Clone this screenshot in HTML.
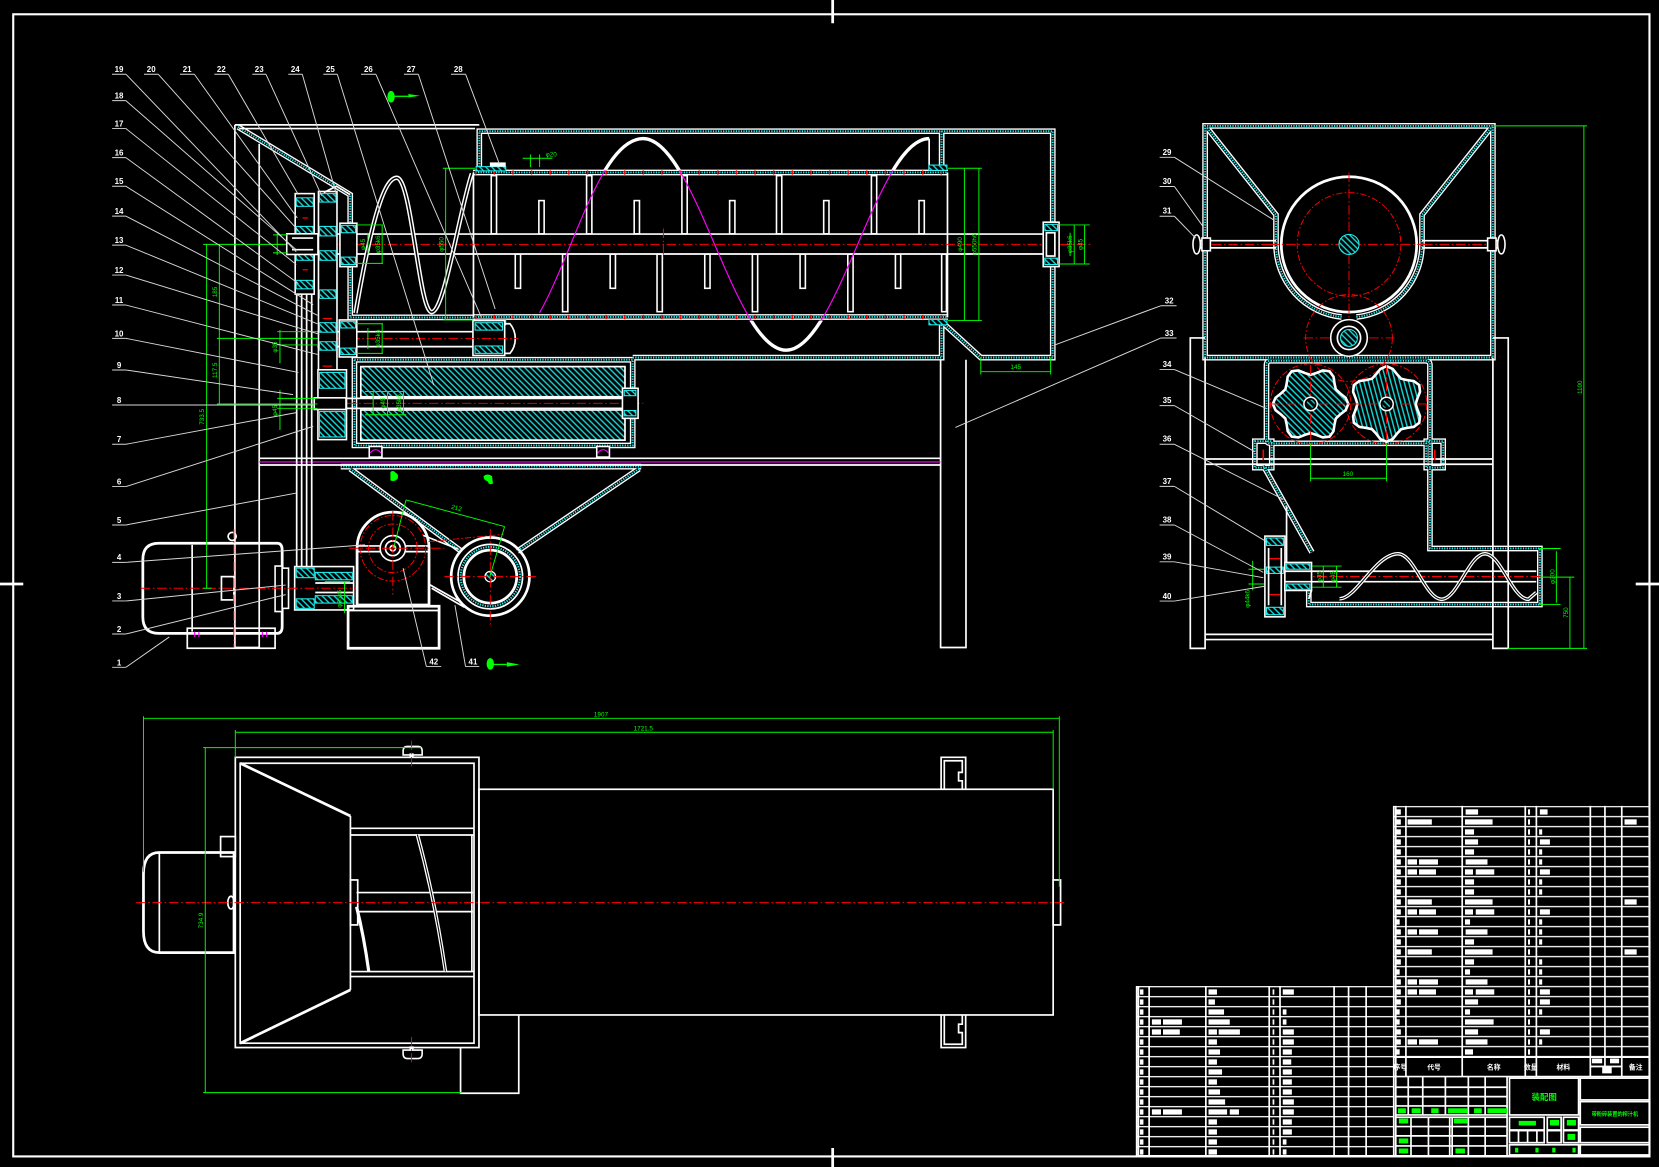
<!DOCTYPE html>
<html><head><meta charset="utf-8">
<style>
html,body{margin:0;padding:0;background:#000;overflow:hidden}
svg{display:block}
.w{stroke:#fff;fill:none;stroke-width:1.6}
.wf{stroke:#fff;fill:#000;stroke-width:1.5}
.w2{stroke:#fff;fill:none;stroke-width:2.6}
.t{stroke:#d8d8d8;fill:none;stroke-width:.9}
.g{stroke:#0f0;fill:none;stroke-width:.9}
.r{stroke:#f00;fill:none;stroke-width:.9;stroke-dasharray:9 2.5 1.5 2.5}
.m{stroke:#f0f;fill:none;stroke-width:1.1}
.wa{stroke:#fff;fill:none;stroke-width:5.4}
.wb{stroke:#000;fill:none;stroke-width:2.8}
.wc{stroke:#2ee;fill:none;stroke-width:1.8;stroke-dasharray:1.2 1.2}
.lb{fill:#fff;font:bold 7.5px "Liberation Sans",sans-serif;text-anchor:middle}
.gt{fill:#0f0;font:6px "Liberation Sans",sans-serif;text-anchor:middle}
.hf{fill:url(#hat);stroke:#2ee;stroke-width:1}
.tb rect{fill:#fff}
.gb rect{fill:#0f0}
</style></head><body>
<svg width="1659" height="1167" viewBox="0 0 1568 1103" preserveAspectRatio="none" xmlns="http://www.w3.org/2000/svg" xmlns:xlink="http://www.w3.org/1999/xlink">
<defs>
<pattern id="hat" width="4" height="4" patternUnits="userSpaceOnUse" patternTransform="rotate(-45)"><rect width="4" height="4" fill="#000"/><line x1="1" y1="0" x2="1" y2="4" stroke="#1dd" stroke-width="1.3"/></pattern>
<pattern id="rows1" x="0" y="761.7" width="20" height="9.451" patternUnits="userSpaceOnUse"><rect x="0" y="0" width="20" height="1.3" fill="#eee"/></pattern>
<pattern id="rows2" x="0" y="931.9" width="20" height="9.451" patternUnits="userSpaceOnUse"><rect x="0" y="0" width="20" height="1.3" fill="#eee"/></pattern>
<clipPath id="outDrum"><rect x="0" y="0" width="1568" height="161"/><rect x="0" y="303" width="1568" height="200"/></clipPath>
<g id="WALLS">
<path d="M225,120 L331,184 V300 H447"/>
<path d="M453,160 V124 H995 V338 H927 L892,306"/>
<path d="M890,124 V160"/>
<path d="M598,338 H890 V306"/>
<path d="M335,340 H598 V421 H335 Z"/>
<path d="M447,163 H896"/>
<path d="M447,299.6 H896"/>
<path d="M322,441 H606"/>
<path d="M331,443 L436,521"/>
<path d="M604,443 L489,521"/>
<path d="M1139,338 V119 H1411 V338 Z"/>
<path d="M1141,121 L1206,203 V231 A69,69 0 0 0 1268,299.6"/>
<path d="M1282,299.6 A69,69 0 0 0 1344,231 V203 L1409,121"/>
<path d="M1201,341 H1347 Q1351.5,341 1351.5,345 V415 Q1351.5,419 1347,419 H1201 Q1197,419 1197,415 V345 Q1197,341 1201,341 Z"/>
<path d="M1194,440 L1240,522"/>
<path d="M1351.5,419 V518.4 H1455.4 V571.4 H1237 V532"/>
<path d="M1186,417 H1202 V442 H1186 Z"/>
<path d="M1348,417 H1364 V442 H1348 Z"/>
</g>
<path id="flower" d="M35,0 L32.5,5.73 L27.25,9.92 L23.38,13.5 L22.22,18.64 L21.21,25.28 L17.5,30.31 L11.29,31.01 L5.04,28.56 L0,27 L-5.04,28.56 L-11.29,31.01 L-17.5,30.31 L-21.21,25.28 L-22.22,18.64 L-23.38,13.5 L-27.25,9.92 L-32.5,5.73 L-35,0 L-32.5,-5.73 L-27.25,-9.92 L-23.38,-13.5 L-22.22,-18.64 L-21.21,-25.28 L-17.5,-30.31 L-11.29,-31.01 L-5.04,-28.56 L0,-27 L5.04,-28.56 L11.29,-31.01 L17.5,-30.31 L21.21,-25.28 L22.22,-18.64 L23.38,-13.5 L27.25,-9.92 L32.5,-5.73 Z"/>
<g id="tA" class="tb"><rect x="1319.9" width="4.1" height="5"/><rect x="1385.2" width="11.8" height="5"/><rect x="1444.2" width="1.9" height="5"/><rect x="1455.4" width="7.3" height="5"/></g>
<g id="tB" class="tb"><rect x="1319.9" width="4.1" height="5"/><rect x="1330.4" width="22.9" height="5"/><rect x="1384.6" width="26.1" height="5"/><rect x="1444.2" width="1.9" height="5"/><rect x="1535.4" width="11.5" height="5"/></g>
<g id="tC" class="tb"><rect x="1319.9" width="4.1" height="5"/><rect x="1384.6" width="8.6" height="5"/><rect x="1444.2" width="1.9" height="5"/><rect x="1454.7" width="2.9" height="5"/></g>
<g id="tD" class="tb"><rect x="1319.9" width="4.1" height="5"/><rect x="1384.6" width="12.4" height="5"/><rect x="1444.2" width="1.9" height="5"/><rect x="1455.4" width="9.5" height="5"/></g>
<g id="tE" class="tb"><rect x="1319.9" width="4.1" height="5"/><rect x="1330.4" width="8.9" height="5"/><rect x="1341.2" width="17.9" height="5"/><rect x="1385.2" width="20.7" height="5"/><rect x="1444.2" width="1.9" height="5"/><rect x="1454.7" width="2.9" height="5"/></g>
<g id="tF" class="tb"><rect x="1319.9" width="4.1" height="5"/><rect x="1330.4" width="8.9" height="5"/><rect x="1341.2" width="16" height="5"/><rect x="1384.6" width="7.6" height="5"/><rect x="1394.8" width="17.5" height="5"/><rect x="1444.2" width="1.9" height="5"/><rect x="1455.4" width="9.5" height="5"/></g>
<g id="tG" class="tb"><rect x="1319.9" width="3" height="5"/><rect x="1384.6" width="4.8" height="5"/><rect x="1444.2" width="1.9" height="5"/><rect x="1454.7" width="2.9" height="5"/></g>
<g id="tH" class="tb"><rect x="1319.9" width="3" height="5"/><rect x="1384.6" width="7.6" height="5"/><rect x="1444.2" width="1.9" height="5"/></g>
<g id="tI" class="tb"><rect x="1319.9" width="3" height="5"/><rect x="1384.6" width="27.1" height="5"/><rect x="1444.2" width="1.9" height="5"/></g>
</defs>

<rect x="0" y="0" width="1568" height="1103" fill="#000"/>

<!-- border & centre marks -->
<rect x="12.5" y="13.5" width="1546.5" height="1079.5" fill="none" stroke="#fff" stroke-width="2"/>
<path class="w2" d="M787,0 V22 M787,1085 V1103 M0,552 H22 M1546,552 H1568"/>

<!-- walls (cyan double) -->
<use href="#WALLS" xlink:href="#WALLS" class="wa"/>
<use href="#WALLS" xlink:href="#WALLS" class="wb"/>
<use href="#WALLS" xlink:href="#WALLS" class="wc"/>
<!-- drum perforation ticks -->
<path d="M449,163 H895 M449,299.6 H895" stroke="#f00" stroke-width="4" stroke-dasharray="1.3 16.3" fill="none"/>

<!-- ============ FRONT VIEW ============ -->
<!-- frame -->
<path class="w" d="M222,118 V612 H245 V136 M222,118 H453 M226,121.5 H449"/>
<path class="w" d="M889,340 V612 H913 V340"/>
<!-- beam -->
<path class="w" d="M245,433.2 H889 M245,439.5 H889"/>
<path class="m" d="M245,436.6 H889"/>
<!-- drum end verticals -->
<path class="w" d="M447.5,163 V300 M895.5,163 V300"/>
<!-- shaft -->
<path class="w" d="M272,221.2 H986 M272,240.1 H986"/>
<!-- fingers -->
<g class="wf">
<rect x="464.3" y="166" width="5" height="55"/><rect x="554.4" y="166" width="5" height="55"/><rect x="644.5" y="166" width="5" height="55"/><rect x="733.9" y="166" width="5" height="55"/><rect x="823.6" y="166" width="5" height="55"/>
<rect x="509.3" y="189.6" width="5" height="31.4"/><rect x="599.4" y="189.6" width="5" height="31.4"/><rect x="689.6" y="189.6" width="5" height="31.4"/><rect x="778.5" y="189.6" width="5" height="31.4"/><rect x="868.6" y="189.6" width="5" height="31.4"/>
<rect x="531.7" y="240.3" width="5" height="54.3"/><rect x="621" y="240.3" width="5" height="54.3"/><rect x="711.1" y="240.3" width="5" height="54.3"/><rect x="801.3" y="240.3" width="5" height="54.3"/><rect x="890" y="240.3" width="4.5" height="54.3"/>
<rect x="487" y="240.3" width="5" height="32.2"/><rect x="576.7" y="240.3" width="5" height="32.2"/><rect x="666.1" y="240.3" width="5" height="32.2"/><rect x="756.2" y="240.3" width="5" height="32.2"/><rect x="846.3" y="240.3" width="5" height="32.2"/>
</g>
<path class="r" d="M258,231 H1032 M627,216 V246"/>
<!-- flight sine -->
<path d="M510,295.6 C542.6,237.7 567.8,131 607.8,131 C657,131 693.8,331 743,331 C792.2,331 829,131 878.2,131" stroke="#f0f" stroke-width="1.1" fill="none"/>
<path d="M510,295.6 C542.6,237.7 567.8,131 607.8,131 C657,131 693.8,331 743,331 C792.2,331 829,131 878.2,131" stroke="#fff" stroke-width="3.2" fill="none" clip-path="url(#outDrum)"/>
<path class="w" d="M878.2,131 V161"/>
<!-- drum end blocks -->
<rect class="hf" x="450" y="157.5" width="28" height="4"/><rect x="463" y="153.5" width="15" height="4" fill="#fff"/>
<rect class="hf" x="878" y="156" width="17" height="5"/>
<rect class="hf" x="450" y="302" width="28" height="5"/><rect class="hf" x="878" y="302" width="17" height="5"/>
<!-- right bearing -->
<rect class="wf" x="986" y="210" width="15" height="42"/><rect class="hf" x="987.5" y="212" width="12" height="6"/><rect class="hf" x="987.5" y="244" width="12" height="6"/><rect class="w" x="989" y="220" width="8" height="22"/>
<!-- feed flight -->
<path d="M336,296 C350,215 362,168 375,168 C389,168 396,295 408,295 C420,295 434,200 446,164" stroke="#fff" stroke-width="4.2" fill="none"/>
<path d="M336,296 C350,215 362,168 375,168 C389,168 396,295 408,295 C420,295 434,200 446,164" stroke="#000" stroke-width="1.4" fill="none"/>
<!-- second shaft -->
<path class="w" d="M300,313.5 H458 M300,327.6 H458"/>
<rect class="wf" x="447" y="303" width="30" height="33"/><rect class="hf" x="449" y="305" width="26" height="7"/><rect class="hf" x="449" y="327" width="26" height="7"/>
<path class="w" d="M477,306 H482 Q487,312 487,320 Q487,328 482,334 H477"/>
<path class="r" d="M300,320 H490"/>
<!-- roller housing content -->
<rect x="341" y="346.5" width="249.7" height="28.5" fill="url(#hat)" stroke="#fff" stroke-width="1.6"/>
<rect x="341" y="387.5" width="249.7" height="28.5" fill="url(#hat)" stroke="#fff" stroke-width="1.6"/>
<path class="w" d="M297,376.5 H600 M297,386 H600"/>
<path class="r" d="M297,381.2 H608"/>
<rect class="wf" x="588.3" y="367" width="14.8" height="28.4"/><rect class="hf" x="590" y="369" width="11" height="5"/><rect class="hf" x="590" y="388" width="11" height="5"/>
<!-- roller feet -->
<rect class="wf" x="349" y="422" width="12" height="10"/><rect class="wf" x="564" y="422" width="12" height="10"/>
<path class="m" d="M350,428 Q355,422 360,428 M565,428 Q570,422 575,428"/>
<!-- gear column -->
<rect class="wf" x="279" y="183" width="18" height="95"/>
<rect class="hf" x="280" y="187" width="16" height="8"/><rect class="hf" x="280" y="214" width="16" height="8"/><rect class="hf" x="280" y="238" width="16" height="8"/><rect class="hf" x="280" y="265" width="16" height="8"/>
<path d="M286,206 H291 M286,255 H291" stroke="#f00" stroke-width="1.2"/>
<rect class="wf" x="301" y="181" width="17.5" height="234"/>
<rect class="hf" x="302" y="183" width="15.5" height="8"/><rect class="hf" x="302" y="214" width="15.5" height="9"/><rect class="hf" x="302" y="237" width="15.5" height="9"/><rect class="hf" x="302" y="274" width="15.5" height="8"/><rect class="hf" x="302" y="305" width="15.5" height="9"/><rect class="hf" x="302" y="323" width="15.5" height="8"/>
<path d="M305,301 H314 M305,346 H314" stroke="#f00" stroke-width="1.2"/>
<rect class="wf" x="300.5" y="349.5" width="27" height="66"/>
<rect class="hf" x="302" y="352" width="24" height="15"/><rect class="hf" x="302" y="389" width="24" height="24"/>
<path class="w" d="M306,182 L318,176 L331,184"/>
<rect class="wf" x="321.3" y="211" width="16" height="41"/><rect class="hf" x="322.5" y="213" width="13.5" height="7"/><rect class="hf" x="322.5" y="243" width="13.5" height="7"/>
<rect class="wf" x="271" y="221" width="29.5" height="19.5"/><path class="w" d="M276,225 H296 M276,236 H296"/>
<rect class="wf" x="320.7" y="302.4" width="16.5" height="35"/><rect class="hf" x="322" y="304" width="14" height="6"/><rect class="hf" x="322" y="329" width="14" height="6"/>
<rect class="wf" x="297" y="376" width="30" height="11"/>
<path class="w" d="M280.4,278 V537 M285.1,278 V537 M289.8,278 V537 M294.6,278 V537"/>
<!-- lower drive: coupling -->
<rect class="wf" x="278.5" y="535.5" width="55.7" height="41"/>
<rect class="hf" x="280" y="537" width="17" height="9"/><rect class="hf" x="280" y="566" width="17" height="9"/>
<rect class="hf" x="298" y="541" width="35" height="7"/><rect class="hf" x="298" y="563" width="35" height="7"/>
<path class="w" d="M298,551 H334 M298,560 H334"/>
<!-- motor -->
<path class="w2" d="M150,513.5 H262 Q266.7,513.5 266.7,520 V592 Q266.7,598.6 262,598.6 H150 Q135,598.6 135,583 V529 Q135,513.5 150,513.5 Z"/>
<path class="w" d="M181.6,515 V597"/>
<rect class="w" x="177" y="593.8" width="83" height="18.9"/>
<path class="m" d="M184,597 V602 M188,597 V602 M248,597 V602 M252,597 V602"/>
<rect class="w" x="209.3" y="545" width="11.8" height="22"/>
<rect class="wf" x="260" y="535" width="6.7" height="43"/><rect class="wf" x="266.7" y="537" width="6" height="38"/>
<circle class="w" cx="219.4" cy="507" r="3.8"/>
<path class="r" d="M133,556 H336 M221,500 V612"/>
<!-- reducer / pillow block -->
<path class="w2" d="M337.5,518 A34,34 0 0 1 405.5,518 V571.8 H337.5 Z"/>
<path class="w" d="M337.5,516 H405.5 M337.5,521.4 H405.5"/>
<rect class="w2" x="329" y="573" width="86" height="39.7"/>
<path class="w" d="M329,577 H415"/>
<circle cx="371.3" cy="518.2" r="31" stroke="#f00" stroke-width=".9" fill="none" stroke-dasharray="6 2 1.5 2"/>
<circle cx="371.3" cy="518.2" r="23" stroke="#f00" stroke-width=".9" fill="none" stroke-dasharray="6 2 1.5 2"/>
<circle class="wf" cx="371.3" cy="518.2" r="12" stroke-width="2.2"/>
<circle class="w" cx="371.3" cy="518.2" r="7"/>
<circle class="w" cx="371.3" cy="518.2" r="2.5"/>
<path class="r" d="M330,518.2 H420 M371.3,483 V562"/>
<!-- belt -->
<path class="w" d="M400,506 L433,519 M405,552 L437,570 M408,556 L439,574"/>
<path d="M405,512 L476,505" stroke="#f00" stroke-width=".9" stroke-dasharray="6 2 1.5 2" fill="none"/>
<!-- pulley -->
<circle class="w2" cx="463.4" cy="545" r="37"/>
<circle class="w" cx="463.4" cy="545" r="30.5"/>
<circle cx="463.4" cy="545" r="28" stroke="#2ee" stroke-width="2" stroke-dasharray="1.2 1.2" fill="none"/>
<circle class="w2" cx="463.4" cy="545" r="25"/>
<circle cx="463.4" cy="545" r="5" fill="url(#hat)" stroke="#fff" stroke-width="1.2"/>
<path class="r" d="M420,545 H508 M463.4,500 V592"/>
<!-- green marks -->
<ellipse cx="369.6" cy="91.4" rx="3.5" ry="5.5" fill="#0f0"/><path d="M372,91 H386" stroke="#0f0" stroke-width="1.2"/><path d="M386,88.8 L397,90.5 L386,92.2 Z" fill="#0f0"/>
<ellipse cx="463.4" cy="627.5" rx="3.5" ry="5.5" fill="#0f0"/><path d="M466,628 H479" stroke="#0f0" stroke-width="1.2"/><path d="M479,625.8 L491,628 L479,630.2 Z" fill="#0f0"/>
<path d="M369,446 Q372,444 374,447 Q377,448 376,452 Q373,456 369,454 Z" fill="#0f0"/>
<path d="M457,450 Q461,447 465,450 L466,457 Q462,459 461,455 Q457,454 457,450 Z" fill="#0f0"/>
<!-- front dims -->
<path class="g" d="M192,231 H270 M195.3,231 V556 M207.3,231 V381.8 M205,319.8 H300 M205,381.8 H300 M192,556 H200"/>
<path class="g" d="M264.6,311.9 V343.4 M262,313.5 H300 M262,326 H300 M264.6,368.6 V406.4 M262,376.5 H300 M262,385.9 H300 M262,221 V241 M258,222 H272 M258,239 H272"/>
<path class="g" d="M337,212.6 H362 M337,248.9 H362 M361.2,212.6 V248.9 M347.7,220 V240 M337,306 H362 M337,334 H362 M361.2,306 V334 M347.7,310 V330"/>
<path class="g" d="M345,370 H384 M345,392 H384 M352.7,370 V392 M366.2,370 V392 M381.4,370 V392"/>
<path class="g" d="M418.5,159 H449 M418.5,302.4 H447 M421.2,159 V302.4"/>
<path class="g" d="M494,149.6 H522 M501.3,146 V158 M510,146 V158"/>
<path class="g" d="M896,159 H928 M896,303 H928 M911.5,159 V303 M925.2,159 V303"/>
<path class="g" d="M1001,212.6 H1030 M1001,249.5 H1030 M1015.3,212.6 V249.5 M1025.1,212.6 V249.5 M1011.4,220 V242"/>
<path class="g" d="M927,338 V354 M993,338 V354 M927,351.3 H993"/>
<path class="g" d="M307,549.7 H331 M325.7,549.7 V579.6"/>
<path class="g" d="M383.8,472.5 L476.9,497.7 M383.8,472.5 L372,518 M476.9,497.7 L463,545"/>
<g class="gt">
<text x="0" y="0" transform="translate(193,394) rotate(-90)">733.5</text>
<text x="0" y="0" transform="translate(205,276) rotate(-90)">185</text>
<text x="0" y="0" transform="translate(205,350) rotate(-90)">117.5</text>
<text x="0" y="0" transform="translate(262,328) rotate(-90)">φ35</text>
<text x="0" y="0" transform="translate(262,388) rotate(-90)">φ45</text>
<text x="0" y="0" transform="translate(359,231) rotate(-90)">φ35k6</text>
<text x="0" y="0" transform="translate(345,231) rotate(-90)">φ45</text>
<text x="0" y="0" transform="translate(359,320) rotate(-90)">φ35k6</text>
<text x="0" y="0" transform="translate(364,381) rotate(-90)">φ45</text>
<text x="0" y="0" transform="translate(379,381) rotate(-90)">φ35k6</text>
<text x="0" y="0" transform="translate(419,231) rotate(-90)">φ550</text>
<text x="0" y="0" transform="translate(909,231) rotate(-90)">φ490</text>
<text x="0" y="0" transform="translate(923,231) rotate(-90)">φ550h6</text>
<text x="0" y="0" transform="translate(1013,231) rotate(-90)">φ35k6</text>
<text x="0" y="0" transform="translate(1023,231) rotate(-90)">φ45</text>
<text x="0" y="0" transform="translate(323,566) rotate(-90)">φ35k6</text>
<text x="0" y="0" transform="translate(431,482) rotate(15)">212</text>
<text x="521" y="148">φ20</text>
<text x="960" y="349">145</text>
</g>
<!-- front labels -->
<g class="lb">
<text x="112.5" y="68">19</text><text x="142.9" y="68">20</text><text x="176.9" y="68">21</text><text x="209.2" y="68">22</text><text x="245" y="68">23</text><text x="279.1" y="68">24</text><text x="312.2" y="68">25</text><text x="348.2" y="68">26</text><text x="388.6" y="68">27</text><text x="433.1" y="68">28</text>
<text x="112.5" y="93">18</text><text x="112.5" y="119.5">17</text><text x="112.5" y="147">16</text><text x="112.5" y="174">15</text><text x="112.5" y="202.3">14</text><text x="112.5" y="229.7">13</text><text x="112.5" y="258">12</text><text x="112.5" y="286.5">11</text><text x="112.5" y="318">10</text><text x="112.5" y="348">9</text><text x="112.5" y="381">8</text><text x="112.5" y="418">7</text><text x="112.5" y="458">6</text><text x="112.5" y="494.5">5</text><text x="112.5" y="529.5">4</text><text x="112.5" y="566">3</text><text x="112.5" y="597.5">2</text><text x="112.5" y="629">1</text>
<text x="410" y="628">42</text><text x="447" y="628">41</text>
</g>
<path class="t" d="M105.9,70.2 H119.1 M136.1,70.2 H149.6 M170.1,70.2 H183.7 M202.6,70.2 H215.8 M238.5,70.2 H251.4 M272.5,70.2 H285.7 M305.6,70.2 H318.8 M341.2,70.2 H355.3 M381.8,70.2 H395.4 M426.2,70.2 H440.1"/>
<path class="t" d="M119.1,70.2 L280,238 M149.6,70.2 L282,218 M183.7,70.2 L281,206 M215.8,70.2 L282,184 M251.4,70.2 L304,185 M285.7,70.2 L318,184 M318.8,70.2 L410,364 M355.3,70.2 L455,300 M395.4,70.2 L468,292 M440.1,70.2 L472,155"/>
<path class="t" d="M106,95.1 H119 M106,121.5 H119 M106,149 H119 M106,176 H119 M106,204.3 H119 M106,231.7 H119 M106,260 H119 M106,288.3 H119 M106,319.8 H119 M106,349.7 H119 M106,382.8 H119 M106,419.9 H119 M106,459.9 H119 M106,496.2 H119 M106,531.5 H119 M106,568 H119 M106,599.2 H119 M106,630.7 H119"/>
<path class="t" d="M119,95.1 L280,236 M119,121.5 L280,250 M119,149 L282,268 M119,176 L296,288 M119,204.3 L300,298 M119,231.7 L300,306 M119,260 L302,316 M119,288.3 L300,335 M119,319.8 L282,352 M119,349.7 L277,373 M119,382.8 L296,382.8 M119,419.9 L280,390 M119,459.9 L296,403 M119,496.2 L280,466 M119,531.5 L345,515 M119,568 L270,553 M119,599.2 L270,562 M119,630.7 L160,602"/>
<path class="t" d="M403,630 H417 M403,630 L381,537 M440,630 H453 M440,630 L430,572"/>

<!-- ============ RIGHT VIEW ============ -->
<circle class="w2" cx="1275" cy="231" r="64"/>
<circle cx="1275" cy="231" r="49" stroke="#f00" stroke-width=".9" fill="none" stroke-dasharray="6 2 1.5 2"/>
<path class="r" d="M1200,231 H1350 M1275,163 V300"/>
<circle cx="1275" cy="231" r="9.5" fill="url(#hat)" stroke="#2ee" stroke-width="1"/>
<path class="w" d="M1128,227.5 H1206 M1128,234.3 H1206 M1344,227.5 H1422 M1344,234.3 H1422"/>
<path class="r" d="M1130,231 H1205 M1345,231 H1420"/>
<ellipse class="wf" cx="1131" cy="231" rx="3.5" ry="9" stroke-width="2"/>
<ellipse class="wf" cx="1419" cy="231" rx="3.5" ry="9" stroke-width="2"/>
<rect class="wf" x="1136" y="225" width="8" height="12"/><rect class="wf" x="1406" y="225" width="8" height="12"/>
<!-- small gear -->
<circle cx="1275" cy="319.4" r="41" stroke="#f00" stroke-width=".9" fill="none" stroke-dasharray="6 2 1.5 2"/>
<path class="r" d="M1232,319.4 H1318"/>
<circle class="wf" cx="1275" cy="319.4" r="17.3" stroke-width="3"/>
<circle class="w" cx="1275" cy="319.4" r="11"/>
<circle cx="1275" cy="319.4" r="8" fill="url(#hat)" stroke="#2ee" stroke-width="1"/>
<!-- legs / frame -->
<path class="w" d="M1139,319.4 H1125 V612.8 H1139 V338 M1411,338 V612.8 H1425.5 V319.4 H1411"/>
<path class="w" d="M1139,433.8 H1411 M1139,438.8 H1411 M1139,599.6 H1411 M1139,604.5 H1411"/>
<!-- rollers -->
<circle cx="1238.7" cy="381.8" r="38" stroke="#f00" stroke-width=".9" fill="none" stroke-dasharray="6 2 1.5 2"/>
<circle cx="1310.5" cy="381.8" r="38" stroke="#f00" stroke-width=".9" fill="none" stroke-dasharray="6 2 1.5 2"/>
<use href="#flower" xlink:href="#flower" transform="translate(1238.7,381.8) scale(1.02)" fill="url(#hat)" stroke="#fff" stroke-width="2.4"/>
<use href="#flower" xlink:href="#flower" transform="translate(1310.5,381.8) rotate(30) scale(1.02)" fill="url(#hat)" stroke="#fff" stroke-width="2.4"/>
<path class="r" d="M1200,381.8 H1350 M1238.7,345 V418 M1310.5,345 V418"/>
<circle cx="1238.7" cy="381.8" r="6.3" fill="#000" stroke="#fff" stroke-width="1.4"/><circle cx="1238.7" cy="381.8" r="4" fill="url(#hat)"/>
<circle cx="1310.5" cy="381.8" r="6.3" fill="#000" stroke="#fff" stroke-width="1.4"/><circle cx="1310.5" cy="381.8" r="4" fill="url(#hat)"/>
<path d="M1194,425 V435 M1356,425 V435" stroke="#f00" stroke-width="1.5"/>
<!-- conveyor -->
<path class="w" d="M1216,478.6 V531.6"/>
<path class="w" d="M1214,539.9 H1452 M1214,549.8 H1452"/>
<path class="r" d="M1214,544.9 H1455"/>
<path d="M1266,566 C1282,566 1300,523.4 1321.5,523.4 C1336.4,523.4 1347.6,566.4 1362.5,566.4 C1377.4,566.4 1388.6,523.4 1403.5,523.4 C1418.4,523.4 1429.6,566.4 1444.5,566.4 L1452,560" stroke="#fff" stroke-width="3.4" fill="none"/>
<path d="M1266,566 C1282,566 1300,523.4 1321.5,523.4 C1336.4,523.4 1347.6,566.4 1362.5,566.4 C1377.4,566.4 1388.6,523.4 1403.5,523.4 C1418.4,523.4 1429.6,566.4 1444.5,566.4 L1452,560" stroke="#000" stroke-width="1" fill="none"/>
<rect class="wf" x="1195.5" y="506.7" width="19" height="76.3"/>
<rect class="hf" x="1197" y="508.5" width="16" height="7"/><rect class="hf" x="1197" y="574" width="16" height="7"/><rect class="hf" x="1197" y="536" width="16" height="6"/>
<path class="w" d="M1199,518 V572 M1211,518 V572"/><path d="M1200,528 H1210 M1200,562 H1210" stroke="#f00" stroke-width="1.2"/>
<rect class="wf" x="1214.4" y="531.6" width="25.2" height="26.5"/><rect class="hf" x="1216" y="533" width="22" height="5"/><rect class="hf" x="1216" y="552" width="22" height="5"/>
<path class="w" d="M1214.4,539.9 H1239.6 M1214.4,549.8 H1239.6"/>
<path class="w" d="M1239.6,558 L1237,566"/>
<!-- right dims -->
<path class="g" d="M1411,119 H1500 M1425,612.8 H1500 M1497,119 V612.8"/>
<path class="g" d="M1455,518.4 H1475 M1455,571.4 H1475 M1471,521 V569.7 M1455,545.5 H1488 M1483.8,545.5 V612.8"/>
<path class="g" d="M1238.7,419 V455 M1310.5,419 V455 M1238.7,452 H1310.5"/>
<path class="g" d="M1250.7,535 V555 M1263.3,535 V555 M1240,535 H1268 M1240,555 H1268 M1184,530 V558 M1180,538 H1195 M1180,552 H1195"/>
<g class="gt">
<text x="0" y="0" transform="translate(1495,366) rotate(-90)">1100</text>
<text x="0" y="0" transform="translate(1469,545) rotate(-90)">φ200</text>
<text x="0" y="0" transform="translate(1482,579) rotate(-90)">750</text>
<text x="1274" y="450">160</text>
<text x="0" y="0" transform="translate(1249,545) rotate(-90)">φ35</text>
<text x="0" y="0" transform="translate(1262,545) rotate(-90)">φ45</text>
<text x="0" y="0" transform="translate(1181,566) rotate(-90)">φ44k6</text>
</g>
<g class="lb">
<text x="1103" y="146.5">29</text><text x="1103" y="174">30</text><text x="1103" y="202">31</text><text x="1105" y="287">32</text><text x="1105" y="317.5">33</text><text x="1103" y="347">34</text><text x="1103" y="381">35</text><text x="1103" y="417.5">36</text><text x="1103" y="457.5">37</text><text x="1103" y="494">38</text><text x="1103" y="529">39</text><text x="1103" y="566">40</text>
</g>
<path class="t" d="M1096,148.7 H1110 M1096,176.3 H1110 M1096,204.4 H1110 M1097,289 H1112 M1097,319.5 H1112 M1096,349.3 H1110 M1096,383.4 H1110 M1096,419.9 H1110 M1096,459.7 H1110 M1096,496.2 H1110 M1096,531 H1110 M1096,568.1 H1110"/>
<path class="t" d="M1110,148.7 L1204,208 M1110,176.3 L1137,214 M1110,204.4 L1130,225 M1097,289 L997,326 M1097,319.5 L903,404 M1110,349.3 L1197,386 M1110,383.4 L1186,427 M1110,419.9 L1213,472 M1110,459.7 L1197,512 M1110,496.2 L1194,541 M1110,531 L1194,546 M1110,568.1 L1196,554"/>

<!-- ============ PLAN VIEW ============ -->
<rect class="w" x="222.4" y="715.8" width="230.3" height="274.3"/>
<rect class="w" x="227" y="721.4" width="221" height="264.6"/>
<path class="w2" d="M227,721.4 L331.2,771.2 M227,986 L331.2,935.6"/>
<path class="w" d="M331.2,771.2 V935.6"/>
<path class="w" d="M331.2,782.9 H448 M331.2,789.2 H448 M331.2,918.3 H448 M331.2,923 H448 M337,843.6 H447 M337,861.6 H447 M446,789 V918"/>
<rect class="w" x="331.2" y="831.7" width="6.9" height="42.5"/>
<path d="M394.5,789 Q411,850 421,918" stroke="#fff" stroke-width="3.4" fill="none"/><path d="M394.5,789 Q411,850 421,918" stroke="#000" stroke-width="1" fill="none"/>
<path d="M337,857 Q344,885 348.5,918" stroke="#fff" stroke-width="3" fill="none"/>
<rect class="w" x="452.7" y="746" width="542.7" height="213.3"/>
<rect class="w" x="995.4" y="831.7" width="7" height="42.5"/>
<path class="w" d="M889.5,746 V715.8 H912.7 V746 M892.5,746 V719 H909.5 V730 H906 V738 H909.5 V746"/>
<path class="w" d="M889.5,959.3 V990.1 H912.7 V959.3 M892.5,959.3 V987 H909.5 V976 H906 V968 H909.5 V959.3"/>
<path class="w" d="M435.3,990.1 V1033.3 H490.3 V959.3"/>
<path class="w2" d="M150.6,805.8 H221.2 V900.4 H150.6 Q135.6,900.4 135.6,880 V826 Q135.6,805.8 150.6,805.8 Z"/>
<path class="w" d="M150.6,805.8 V900.4"/>
<rect class="w" x="208.5" y="790.7" width="13.9" height="18.9"/>
<ellipse class="w" cx="218.3" cy="853.1" rx="3" ry="6"/>
<path class="wf" d="M381,710 Q381,705.5 385,705.5 H395 Q399,705.5 399,710 V713.5 H381 Z"/><rect x="387" y="712" width="4" height="4" fill="#fff"/>
<path class="wf" d="M381,996 Q381,1000.5 385,1000.5 H395 Q399,1000.5 399,996 V992.5 H381 Z"/><rect x="387" y="989" width="4" height="4" fill="#fff"/>
<path class="r" d="M128.6,853.1 H1008.2 M389,700 V726 M389,980 V1004"/>
<path class="g" d="M135.6,678.9 H1001.2 M135.6,677 V824 M1001.2,677 V838 M222.4,692.1 H995.4 M222.4,690 V716 M995.4,690 V746 M194,706.6 V1032.7 M192,706.6 H398 M192,1032.7 H436"/>
<g class="gt">
<text x="568" y="677">1907</text>
<text x="608" y="690.5">1721.5</text>
<text x="0" y="0" transform="translate(192,870) rotate(-90)">734.9</text>
</g>

<!-- ============ TITLE BLOCK ============ -->
<rect x="1317.3" y="761.7" width="241.7" height="237.5" fill="url(#rows1)"/>
<rect x="1074.3" y="931.9" width="243" height="160.6" fill="url(#rows2)"/>
<path class="w" d="M1317.3,761.7 V1092.5 M1319.2,761.7 V1017.5 M1328.8,761.7 V1017.5 M1382,761.7 V1017.5 M1441.6,761.7 V1017.5 M1452.1,761.7 V1017.5 M1503.1,761.7 V1017.5 M1516.9,761.7 V1008 M1532.8,761.7 V1017.5 M1503.1,1008 H1532.8"/>
<path class="w" d="M1317.3,999.2 H1559 M1317.3,1017.5 H1559"/>
<path class="w" d="M1074.3,931.9 V1092.5 M1076,931.9 V1092.5 M1086.1,931.9 V1092.5 M1139.7,931.9 V1092.5 M1199.6,931.9 V1092.5 M1209.8,931.9 V1092.5 M1260.9,931.9 V1092.5 M1274.6,931.9 V1092.5 M1291.2,931.9 V1092.5"/>
<path class="w" d="M1074.3,1092.5 H1559"/>
<use href="#tA" xlink:href="#tA" y="764.94"/><use href="#tB" xlink:href="#tB" y="774.39"/><use href="#tC" xlink:href="#tC" y="783.84"/><use href="#tD" xlink:href="#tD" y="793.29"/><use href="#tC" xlink:href="#tC" y="802.74"/><use href="#tE" xlink:href="#tE" y="812.19"/><use href="#tF" xlink:href="#tF" y="821.65"/><use href="#tC" xlink:href="#tC" y="831.1"/><use href="#tC" xlink:href="#tC" y="840.55"/><use href="#tB" xlink:href="#tB" y="850"/><use href="#tF" xlink:href="#tF" y="859.45"/><use href="#tG" xlink:href="#tG" y="868.9"/><use href="#tE" xlink:href="#tE" y="878.35"/><use href="#tC" xlink:href="#tC" y="887.8"/><use href="#tB" xlink:href="#tB" y="897.25"/><use href="#tC" xlink:href="#tC" y="906.7"/><use href="#tG" xlink:href="#tG" y="916.16"/><use href="#tE" xlink:href="#tE" y="925.61"/><use href="#tF" xlink:href="#tF" y="935.06"/><use href="#tD" xlink:href="#tD" y="944.51"/><use href="#tG" xlink:href="#tG" y="953.96"/><use href="#tI" xlink:href="#tI" y="963.41"/><use href="#tD" xlink:href="#tD" y="972.86"/><use href="#tE" xlink:href="#tE" y="982.31"/><use href="#tH" xlink:href="#tH" y="991.76"/>
<g class="tb">
<rect x="1077.5" y="935.1" width="3.2" height="5"/><rect x="1077.5" y="944.55" width="3.2" height="5"/><rect x="1077.5" y="954" width="3.2" height="5"/><rect x="1077.5" y="963.45" width="3.2" height="5"/><rect x="1077.5" y="972.9" width="3.2" height="5"/><rect x="1077.5" y="982.35" width="3.2" height="5"/><rect x="1077.5" y="991.8" width="3.2" height="5"/><rect x="1077.5" y="1001.25" width="3.2" height="5"/><rect x="1077.5" y="1010.7" width="3.2" height="5"/><rect x="1077.5" y="1020.15" width="3.2" height="5"/><rect x="1077.5" y="1029.6" width="3.2" height="5"/><rect x="1077.5" y="1039.05" width="3.2" height="5"/><rect x="1077.5" y="1048.5" width="3.2" height="5"/><rect x="1077.5" y="1057.95" width="3.2" height="5"/><rect x="1077.5" y="1067.4" width="3.2" height="5"/><rect x="1077.5" y="1076.85" width="3.2" height="5"/><rect x="1077.5" y="1086.3" width="3.2" height="5"/>
<rect x="1202.8" y="935.1" width="1.6" height="5"/><rect x="1202.8" y="944.55" width="1.6" height="5"/><rect x="1202.8" y="954" width="1.6" height="5"/><rect x="1202.8" y="963.45" width="1.6" height="5"/><rect x="1202.8" y="972.9" width="1.6" height="5"/><rect x="1202.8" y="982.35" width="1.6" height="5"/><rect x="1202.8" y="991.8" width="1.6" height="5"/><rect x="1202.8" y="1001.25" width="1.6" height="5"/><rect x="1202.8" y="1010.7" width="1.6" height="5"/><rect x="1202.8" y="1020.15" width="1.6" height="5"/><rect x="1202.8" y="1029.6" width="1.6" height="5"/><rect x="1202.8" y="1039.05" width="1.6" height="5"/><rect x="1202.8" y="1048.5" width="1.6" height="5"/><rect x="1202.8" y="1057.95" width="1.6" height="5"/><rect x="1202.8" y="1067.4" width="1.6" height="5"/><rect x="1202.8" y="1076.85" width="1.6" height="5"/><rect x="1202.8" y="1086.3" width="1.6" height="5"/>
<rect x="1142.2" y="935.1" width="8" height="5"/><rect x="1212.4" y="935.1" width="10.5" height="5"/>
<rect x="1142.2" y="944.55" width="6.1" height="5"/>
<rect x="1142.2" y="954" width="14.7" height="5"/><rect x="1212.4" y="954" width="3.5" height="5"/>
<rect x="1088.7" y="963.45" width="8.6" height="5"/><rect x="1099.2" y="963.45" width="17.9" height="5"/><rect x="1142.2" y="963.45" width="20.1" height="5"/><rect x="1212.4" y="963.45" width="3.5" height="5"/>
<rect x="1088.7" y="972.9" width="8.6" height="5"/><rect x="1099.2" y="972.9" width="15.9" height="5"/><rect x="1142.2" y="972.9" width="8" height="5"/><rect x="1151.8" y="972.9" width="20.1" height="5"/><rect x="1212.4" y="972.9" width="10.5" height="5"/>
<rect x="1142.2" y="982.35" width="8" height="5"/><rect x="1212.4" y="982.35" width="10.5" height="5"/>
<rect x="1142.2" y="991.8" width="10.9" height="5"/><rect x="1212.4" y="991.8" width="8.6" height="5"/>
<rect x="1142.2" y="1001.25" width="8" height="5"/><rect x="1212.4" y="1001.25" width="8" height="5"/>
<rect x="1142.2" y="1010.7" width="12.8" height="5"/><rect x="1212.4" y="1010.7" width="8.6" height="5"/>
<rect x="1142.2" y="1020.15" width="8" height="5"/><rect x="1212.4" y="1020.15" width="8.6" height="5"/>
<rect x="1142.2" y="1029.6" width="10.9" height="5"/><rect x="1212.4" y="1029.6" width="8.6" height="5"/>
<rect x="1142.2" y="1039.05" width="15.7" height="5"/><rect x="1212.4" y="1039.05" width="10.5" height="5"/>
<rect x="1088.7" y="1048.5" width="8.6" height="5"/><rect x="1099.2" y="1048.5" width="17.9" height="5"/><rect x="1142.2" y="1048.5" width="17.6" height="5"/><rect x="1162.3" y="1048.5" width="8.7" height="5"/><rect x="1212.4" y="1048.5" width="10.5" height="5"/>
<rect x="1142.2" y="1057.95" width="8" height="5"/><rect x="1212.4" y="1057.95" width="8.6" height="5"/>
<rect x="1142.2" y="1067.4" width="8" height="5"/><rect x="1212.4" y="1067.4" width="8.6" height="5"/>
<rect x="1142.2" y="1076.85" width="8" height="5"/><rect x="1212.4" y="1076.85" width="3.5" height="5"/>
<rect x="1142.2" y="1086.3" width="8" height="5"/><rect x="1212.4" y="1086.3" width="3.5" height="5"/>
<rect x="1504.7" y="1000.5" width="9.6" height="4.5"/><rect x="1521.7" y="1000.5" width="8.6" height="4.5"/><rect x="1514.3" y="1008.5" width="9" height="6"/>
</g>
<g style="fill:#fff;font:bold 6.5px 'Liberation Sans','Noto Sans CJK SC',sans-serif;text-anchor:middle">
<text x="1323.5" y="1011">序号</text><text x="1355.4" y="1011">代号</text><text x="1411.8" y="1011">名称</text><text x="1446.8" y="1011">数量</text><text x="1477.6" y="1011">材料</text><text x="1546" y="1011">备注</text>
</g>
<!-- title lower section -->
<path class="w" d="M1319.2,1027.6 H1424.4 M1319.2,1036.5 H1424.4 M1319.2,1045.3 H1424.4 M1319.2,1053.8 H1424.4 M1319.2,1056 H1424.4 M1319.2,1064.8 H1424.4 M1319.2,1073.6 H1424.4 M1319.2,1083.1 H1424.4"/>
<path class="w" d="M1319.2,1017.5 V1092.5 M1331,1017.5 V1053.8 M1344.7,1017.5 V1053.8 M1366.1,1017.5 V1053.8 M1387.8,1017.5 V1053.8 M1403.7,1017.5 V1053.8 M1424.4,1017.5 V1092.5 M1333.6,1056 V1092.5 M1350.1,1056 V1092.5 M1370.2,1056 V1092.5 M1372.5,1056 V1092.5 M1387.8,1056 V1092.5 M1403.7,1056 V1092.5"/>
<rect class="w" x="1426.7" y="1019" width="65.3" height="34.8"/>
<rect class="w" x="1426.7" y="1056" width="32.8" height="12"/><rect class="w" x="1462.4" y="1056" width="13.1" height="12"/><rect class="w" x="1477.7" y="1056" width="14.3" height="12"/>
<rect class="w" x="1426.7" y="1068.6" width="32.8" height="11.4"/><rect class="w" x="1462.4" y="1068.6" width="13.1" height="11.4"/><rect class="w" x="1477.7" y="1068.6" width="14.3" height="11.4"/>
<path class="w" d="M1435.2,1068.6 V1080 M1443.8,1068.6 V1080 M1452.6,1068.6 V1080"/>
<rect class="w" x="1426.7" y="1082" width="65.3" height="9.6"/>
<rect class="w" x="1493.6" y="1019" width="65.4" height="20.6"/><rect class="w" x="1493.6" y="1041.2" width="65.4" height="22"/><rect class="w" x="1493.6" y="1065.4" width="65.4" height="14.6"/><rect class="w" x="1493.6" y="1082" width="65.4" height="9.6"/>
<g class="gb">
<rect x="1321.3" y="1047.5" width="7.5" height="4.7"/><rect x="1334.2" y="1047.5" width="8.6" height="4.7"/><rect x="1352.7" y="1047.5" width="7" height="4.7"/><rect x="1368.6" y="1047.5" width="18.2" height="4.7"/><rect x="1393.2" y="1047.5" width="7.3" height="4.7"/><rect x="1405.9" y="1047.5" width="18.5" height="4.7"/>
<rect x="1322.1" y="1057.2" width="8.9" height="4.7"/><rect x="1374" y="1057.2" width="12.8" height="4.7"/>
<rect x="1322.1" y="1076" width="8.9" height="4.7"/>
<rect x="1322.1" y="1085.5" width="8.9" height="4.7"/><rect x="1375.6" y="1085.5" width="9" height="4.7"/>
<rect x="1435.4" y="1059.4" width="16.3" height="4.4"/><rect x="1464.9" y="1058.5" width="8.6" height="5.3"/><rect x="1480.9" y="1058.5" width="8.6" height="5.3"/>
<rect x="1481.5" y="1071.7" width="7.3" height="5.7"/>
<rect x="1432" y="1084.8" width="3" height="4.5"/><rect x="1451.2" y="1084.8" width="3" height="4.5"/><rect x="1467.1" y="1084.8" width="3" height="4.5"/><rect x="1486.2" y="1084.8" width="3" height="4.5"/>
</g>
<text x="1459.5" y="1039.5" style="fill:#0f0;font:bold 8px 'Liberation Sans','Noto Sans CJK SC',sans-serif;text-anchor:middle">装配图</text>
<text x="1526.3" y="1055" textLength="44" lengthAdjust="spacingAndGlyphs" style="fill:#0f0;font:bold 5.5px 'Liberation Sans','Noto Sans CJK SC',sans-serif;text-anchor:middle">带粉碎装置的榨汁机</text>
</svg>
</body></html>
